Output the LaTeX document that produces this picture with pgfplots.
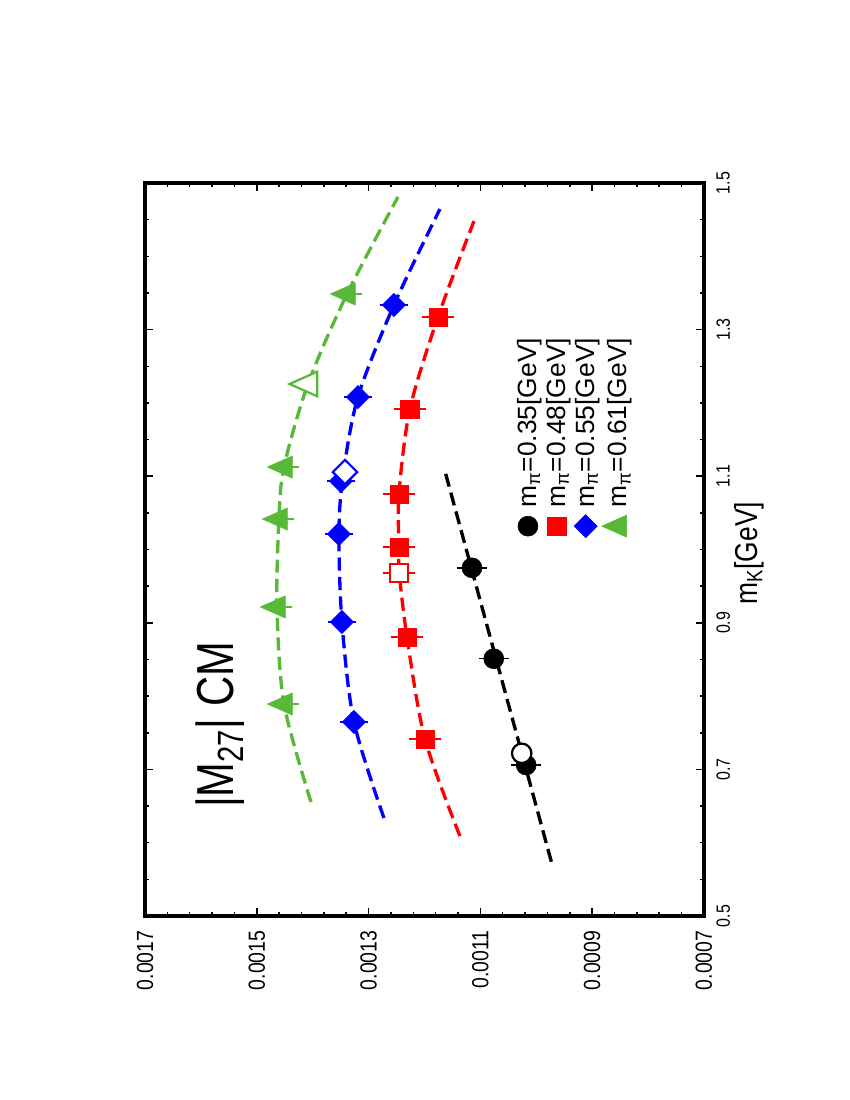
\documentclass[border=0pt]{standalone}
\usepackage{fontspec}
\setmainfont{Liberation Sans}
\usepackage{graphicx}
\usepackage{pgfplots}
\pgfplotsset{compat=1.18}
\definecolor{cmgreen}{RGB}{87,185,55}

\pgfplotsset{
  fitline/.style={line width=2.4pt, dash pattern=on 9.5pt off 4.5pt, smooth, no marks, forget plot},
  errs/.style={
    /pgfplots/error bars/y dir=both,
    /pgfplots/error bars/y explicit,
    /pgfplots/error bars/error bar style={line width=1pt},
    /pgfplots/error bars/error mark options={line width=1pt, mark size=2.5pt}},
}

\begin{document}
\rotatebox{90}{%
\begin{tikzpicture}
\begin{axis}[
  name=ax,
  scale only axis, width=527.8pt, height=402.5pt,
  xmin=0.5, xmax=1.5, ymin=0.0007, ymax=0.0017,
  xtick={0.5,0.7,0.9,1.1,1.3,1.5},
  ytick={0.0007,0.0009,0.0011,0.0013,0.0015,0.0017},
  minor x tick num=3, minor y tick num=4,
  scaled y ticks=false,
  axis line style={line width=2.5pt},
  every tick/.append style={black, line width=1.1pt},
  major tick length=6pt, minor tick length=3pt,
  /pgf/number format/assume math mode=true,
  xticklabel style={font=\fontsize{11.5}{13}\selectfont, yscale=1.2, yshift=-4pt,
    /pgf/number format/.cd, fixed, precision=1},
  yticklabel style={font=\fontsize{14}{16}\selectfont, yscale=1.2, xshift=-7pt,
    /pgf/number format/.cd, fixed, fixed zerofill, precision=4},
  xlabel={m\textsubscript{K}[GeV]},
  x label style={at={(axis description cs:0.495,-0.0805)}, anchor=center,
    font=\fontsize{19}{22}\selectfont, yscale=1.2},
  legend style={at={(0.510,0.343)}, anchor=north west, draw=none, fill=none,
    font=\fontsize{19}{22}\selectfont, nodes={inner sep=1.5pt}, row sep=2.5pt, column sep=3.5pt},
  legend cell align=left,
]
% fitted curves
\addplot[fitline, black, sharp plot] coordinates {(0.574,0.000973) (1.106,0.001163)};
\addplot[fitline, red] coordinates {
  (0.609,0.0011365) (0.7415,0.0011991) (0.8806,0.0012313) (0.968,0.0012450)
  (1.0034,0.0012456) (1.0757,0.0012456) (1.1917,0.0012260) (1.3172,0.0011758) (1.448,0.0011114)};
\addplot[fitline, blue] coordinates {
  (0.6337,0.0012725) (0.7647,0.0013261) (0.9011,0.0013476) (1.0211,0.0013530)
  (1.0990,0.0013460) (1.2080,0.0013190) (1.3336,0.0012546) (1.4645,0.0011723)};
\addplot[fitline, cmgreen] coordinates {
  (0.6555,0.0014030) (0.7892,0.0014513) (0.9216,0.0014639) (1.0416,0.0014603)
  (1.1125,0.0014513) (1.2258,0.0014084) (1.3486,0.0013386) (1.481,0.0012474)};

% lattice points
\addplot[black, only marks, mark=*, mark size=7.2pt, errs] coordinates {
  (0.706,0.001018) +- (0,0.000021)
  (0.851,0.001076) +- (0,0.000021)
  (0.975,0.001115) +- (0,0.000021)};
\addlegendentry{m\textsubscript{π}=0.35[GeV]}
\addplot[red, only marks, mark=square*, mark size=6.6pt, errs] coordinates {
  (0.7415,0.0011991) +- (0,0.000023)
  (0.8806,0.0012313) +- (0,0.000023)
  (1.0034,0.0012456) +- (0,0.000023)
  (1.0757,0.0012456) +- (0,0.000023)
  (1.1917,0.0012260) +- (0,0.000023)
  (1.3172,0.0011758) +- (0,0.000023)};
\addlegendentry{m\textsubscript{π}=0.48[GeV]}
\addplot[blue, only marks, mark=square*, mark size=5.9pt, mark options={rotate=45}, errs] coordinates {
  (0.7647,0.0013261) +- (0,0.000019)
  (0.9011,0.0013476) +- (0,0.000019)
  (1.0211,0.0013530) +- (0,0.000019)
  (1.0934,0.0013494) +- (0,0.000019)
  (1.2080,0.0013190) +- (0,0.000019)
  (1.3336,0.0012546) +- (0,0.000019)};
\addlegendentry{m\textsubscript{π}=0.55[GeV]}
\addplot[cmgreen, only marks, mark=triangle*, mark size=9.2pt, mark options={yscale=1.3}, errs] coordinates {
  (0.7892,0.0014513) +- (0,0.000020)
  (0.9216,0.0014639) +- (0,0.000020)
  (1.0416,0.0014603) +- (0,0.000020)
  (1.1125,0.0014513) +- (0,0.000020)
  (1.3486,0.0013386) +- (0,0.000020)};
\addlegendentry{m\textsubscript{π}=0.61[GeV]}

% physical points (open)
\addplot[black, only marks, mark=*, mark size=7.0pt, mark options={fill=white, line width=1.6pt}, forget plot] coordinates {(0.722,0.001026)};
\addplot[red, only marks, mark=square*, mark size=6.3pt, mark options={fill=white, line width=1.6pt}, forget plot, errs] coordinates {(0.968,0.0012456) +- (0,0.000023)};
\addplot[blue, only marks, mark=square*, mark size=6.2pt, mark options={rotate=45, fill=white, line width=1.6pt}, forget plot] coordinates {(1.1057,0.0013422)};
\addplot[cmgreen, only marks, mark=triangle*, mark size=10.2pt, mark options={yscale=1.3, fill=white, line width=1.6pt}, forget plot] coordinates {(1.2258,0.0014084)};

\node[font=\fontsize{30}{34}\selectfont, yscale=1.25] at (axis cs:0.7606,0.001566) {|M\textsubscript{27}| CM};
\end{axis}
\path ([shift={(-132.5pt,-105.1pt)}]ax.south west) rectangle ([shift={(131.8pt,104.4pt)}]ax.north east);
\end{tikzpicture}}
\end{document}
